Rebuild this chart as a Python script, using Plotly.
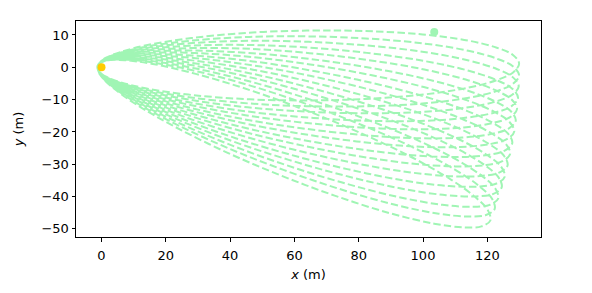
import numpy as np
import plotly.graph_objects as go

# direction of the far end of each loop (deg), read along the right-hand edge
axis_deg = [0.5, -1.1, -2.6, -4.2, -5.7, -7.3, -8.8, -10.4, -11.9, -13.5,
            -15.1, -16.6, -18.2, -19.7, -21.4]

# half of one loop: distance along its axis (u) and half width across it (v), m
shape_u = [-1.3, 0.0, 2.0, 6.0, 14, 28, 46, 64, 82, 100, 114, 123, 128, 129.9]
shape_v = [0.0, 2.0, 3.2, 4.7, 6.7, 8.8, 10.3, 10.8, 10.5, 9.3, 7.3, 5.0, 2.7, 0.0]

start_x, start_y = [103.5], [10.9]
centre_x, centre_y = [0.0], [0.0]

LINE = "#a0f5b4"

# one loop: out along the upper side, back along the lower side
u = np.array(shape_u + shape_u[::-1][1:-1])
v = np.array(shape_v + [-s for s in shape_v[::-1][1:-1]])
xs, ys = [], []
for a in np.radians(axis_deg):
    xs += list(u * np.cos(a) - v * np.sin(a))
    ys += list(u * np.sin(a) + v * np.cos(a))

fig = go.Figure()
fig.add_trace(go.Scatter(x=xs, y=ys, mode="lines",
                         line=dict(color=LINE, width=2, dash="7.4px,3.2px", shape="spline"),
                         showlegend=False, hoverinfo="skip"))
fig.add_trace(go.Scatter(x=start_x, y=start_y, mode="markers",
                         marker=dict(color=LINE, size=8), showlegend=False))
fig.add_trace(go.Scatter(x=centre_x, y=centre_y, mode="markers",
                         marker=dict(color="#ffcc00", size=8), showlegend=False))

axis = dict(showline=True, linecolor="black", linewidth=1, mirror=True,
            ticks="outside", ticklen=3.5, tickwidth=0.8, tickcolor="black",
            showgrid=False, zeroline=False, automargin=False,
            tickfont=dict(size=13))
fig.update_xaxes(range=[-7.93, 136.7], tickvals=[0, 20, 40, 60, 80, 100, 120],
                 ticklabelstandoff=3,
                 title=dict(text="<i>x</i> (m)", standoff=7, font=dict(size=13)), **axis)
fig.update_yaxes(range=[-52.5, 14.33], tickvals=[-50, -40, -30, -20, -10, 0, 10],
                 title=dict(text="<i>y</i> (m)", standoff=14, font=dict(size=13)), **axis)
fig.update_layout(width=592, height=293, margin=dict(l=76, r=51, t=21, b=56, pad=0),
                  plot_bgcolor="white", paper_bgcolor="white",
                  font=dict(family="DejaVu Sans", size=13, color="black"))
fig.write_html("out.html", config={"displayModeBar": False},
               post_script="document.body.style.margin='0';")
